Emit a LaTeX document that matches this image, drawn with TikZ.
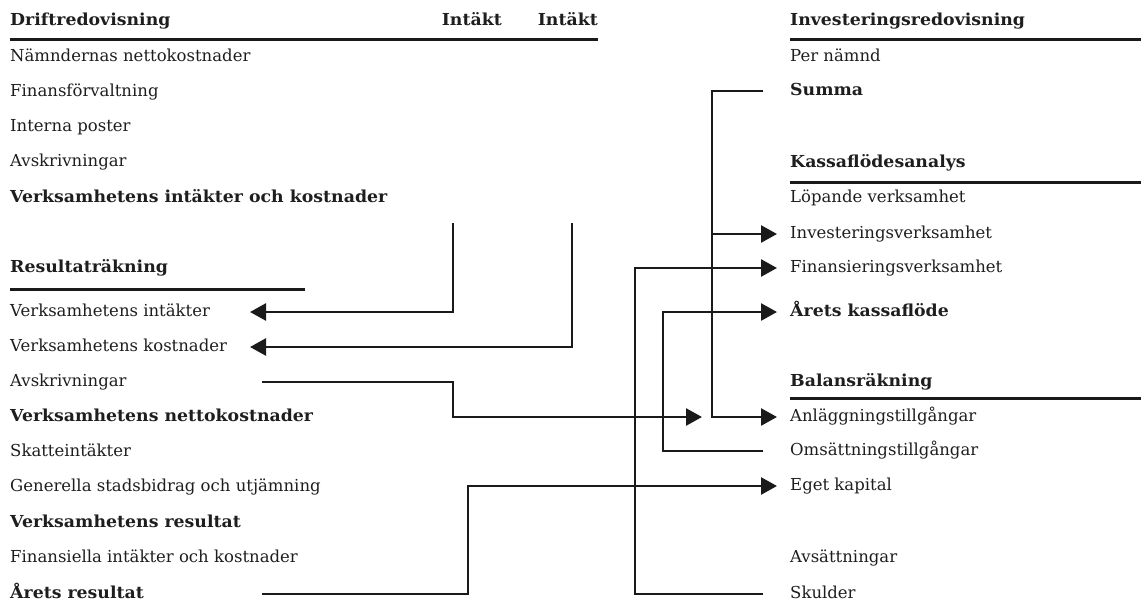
\documentclass[tikz,border=0pt]{standalone}
\usepackage{fontspec}
\setmainfont{DejaVu Serif}[BoldFeatures={FakeStretch=1.05}]
\usetikzlibrary{arrows.meta}
\definecolor{repText}{HTML}{1E1E1E}
\definecolor{repLine}{HTML}{1A1A1A}
\tikzset{
  repfig/.style={
    x=1pt, y=-1pt,
    every node/.append style={font=\fontsize{16.5}{19}\selectfont, text=repText},
  },
  rowlabel/.style={anchor=west, inner sep=0pt, text height=12pt, text depth=4pt},
  sumlabel/.style={rowlabel, font=\fontsize{16.5}{19}\selectfont\bfseries},
  headlabel/.style={sumlabel},
  headrule/.style={draw=repLine, line width=3pt},
  link/.style={draw=repLine, line width=2.6pt},
  flow/.style={link, -{Triangle[length=16pt, width=17pt]}},
}
\begin{document}
\begin{tikzpicture}[repfig]
  \useasboundingbox (0,0) rectangle (1141,603);
  % Driftredovisning
  \node[headlabel] (DriftHead) at (10,21) {Driftredovisning};
  \node[headlabel, anchor=east] (IntA) at (502,21) {Intäkt};
  \node[headlabel, anchor=east] (IntB) at (598,21) {Intäkt};
  \draw[headrule] (10,39) -- (598,39);
  \node[rowlabel] (Namnd) at (10,57) {Nämndernas nettokostnader};
  \node[rowlabel] (FinForv) at (10,92) {Finansförvaltning};
  \node[rowlabel] (IntPost) at (10,127) {Interna poster};
  \node[rowlabel] (AvskrD) at (10,162) {Avskrivningar};
  \node[sumlabel] (VerkIK) at (10,198) {Verksamhetens intäkter och kostnader};
  % Resultaträkning
  \node[headlabel] (ResHead) at (10,268) {Resultaträkning};
  \draw[headrule] (10,289) -- (305,289);
  \node[rowlabel] (VerkInt) at (10,312) {Verksamhetens intäkter};
  \node[rowlabel] (VerkKost) at (10,347) {Verksamhetens kostnader};
  \node[rowlabel] (AvskrR) at (10,382) {Avskrivningar};
  \node[sumlabel] (VerkNetto) at (10,417) {Verksamhetens nettokostnader};
  \node[rowlabel] (Skatt) at (10,452) {Skatteintäkter};
  \node[rowlabel] (Generella) at (10,487) {Generella stadsbidrag och utjämning};
  \node[sumlabel] (VerkRes) at (10,523) {Verksamhetens resultat};
  \node[rowlabel] (FinIK) at (10,558) {Finansiella intäkter och kostnader};
  \node[sumlabel] (AretsRes) at (10,594) {Årets resultat};
  % Investeringsredovisning
  \node[headlabel] (InvHead) at (790,21) {Investeringsredovisning};
  \draw[headrule] (790,39) -- (1141,39);
  \node[rowlabel] (PerNamnd) at (790,57) {Per nämnd};
  \node[sumlabel] (Summa) at (790,91) {Summa};
  % Kassaflödesanalys
  \node[headlabel] (KassaHead) at (790,163) {Kassaflödesanalys};
  \draw[headrule] (790,182) -- (1141,182);
  \node[rowlabel] (Lopande) at (790,198) {Löpande verksamhet};
  \node[rowlabel] (InvVerk) at (790,234) {Investeringsverksamhet};
  \node[rowlabel] (FinVerk) at (790,268) {Finansieringsverksamhet};
  \node[sumlabel] (AretsKassa) at (790,312) {Årets kassaflöde};
  % Balansräkning
  \node[headlabel] (BalHead) at (790,382) {Balansräkning};
  \draw[headrule] (790,398) -- (1141,398);
  \node[rowlabel] (Anl) at (790,417) {Anläggningstillgångar};
  \node[rowlabel] (Oms) at (790,451) {Omsättningstillgångar};
  \node[rowlabel] (Eget) at (790,486) {Eget kapital};
  \node[rowlabel] (Avsatt) at (790,558) {Avsättningar};
  \node[rowlabel] (Skulder) at (790,594) {Skulder};
  % hjälppunkter för ledningarna
  \coordinate (colA) at (453,223);
  \coordinate (colB) at (572,223);
  \coordinate (colE) at (468,0);
  \coordinate (colF) at (635,0);
  \coordinate (colG) at (663,0);
  \coordinate (trunk) at (712,0);
  \coordinate (startL) at (262,0);
  \coordinate (tipL) at (250,0);
  \coordinate (tipM) at (702,0);
  \coordinate (endR) at (763,0);
  \coordinate (tipR) at (777,0);
  \draw[flow] (colA) |- (VerkInt.west -| tipL);
  \draw[flow] (colB) |- (VerkKost.west -| tipL);
  \draw[flow] (AvskrR.west -| startL) -| (colA |- Anl.west) -- (Anl.west -| tipM);
  \draw[flow] (Summa.west -| endR) -| (trunk |- Anl.west) -- (Anl.west -| tipR);
  \draw[flow] (trunk |- InvVerk.west) -- (InvVerk.west -| tipR);
  \draw[flow] (AretsRes.west -| startL) -| (colE |- Eget.west) -- (Eget.west -| tipR);
  \draw[flow] (Skulder.west -| endR) -| (colF |- FinVerk.west) -- (FinVerk.west -| tipR);
  \draw[flow] (Oms.west -| endR) -| (colG |- AretsKassa.west) -- (AretsKassa.west -| tipR);
\end{tikzpicture}
\end{document}
